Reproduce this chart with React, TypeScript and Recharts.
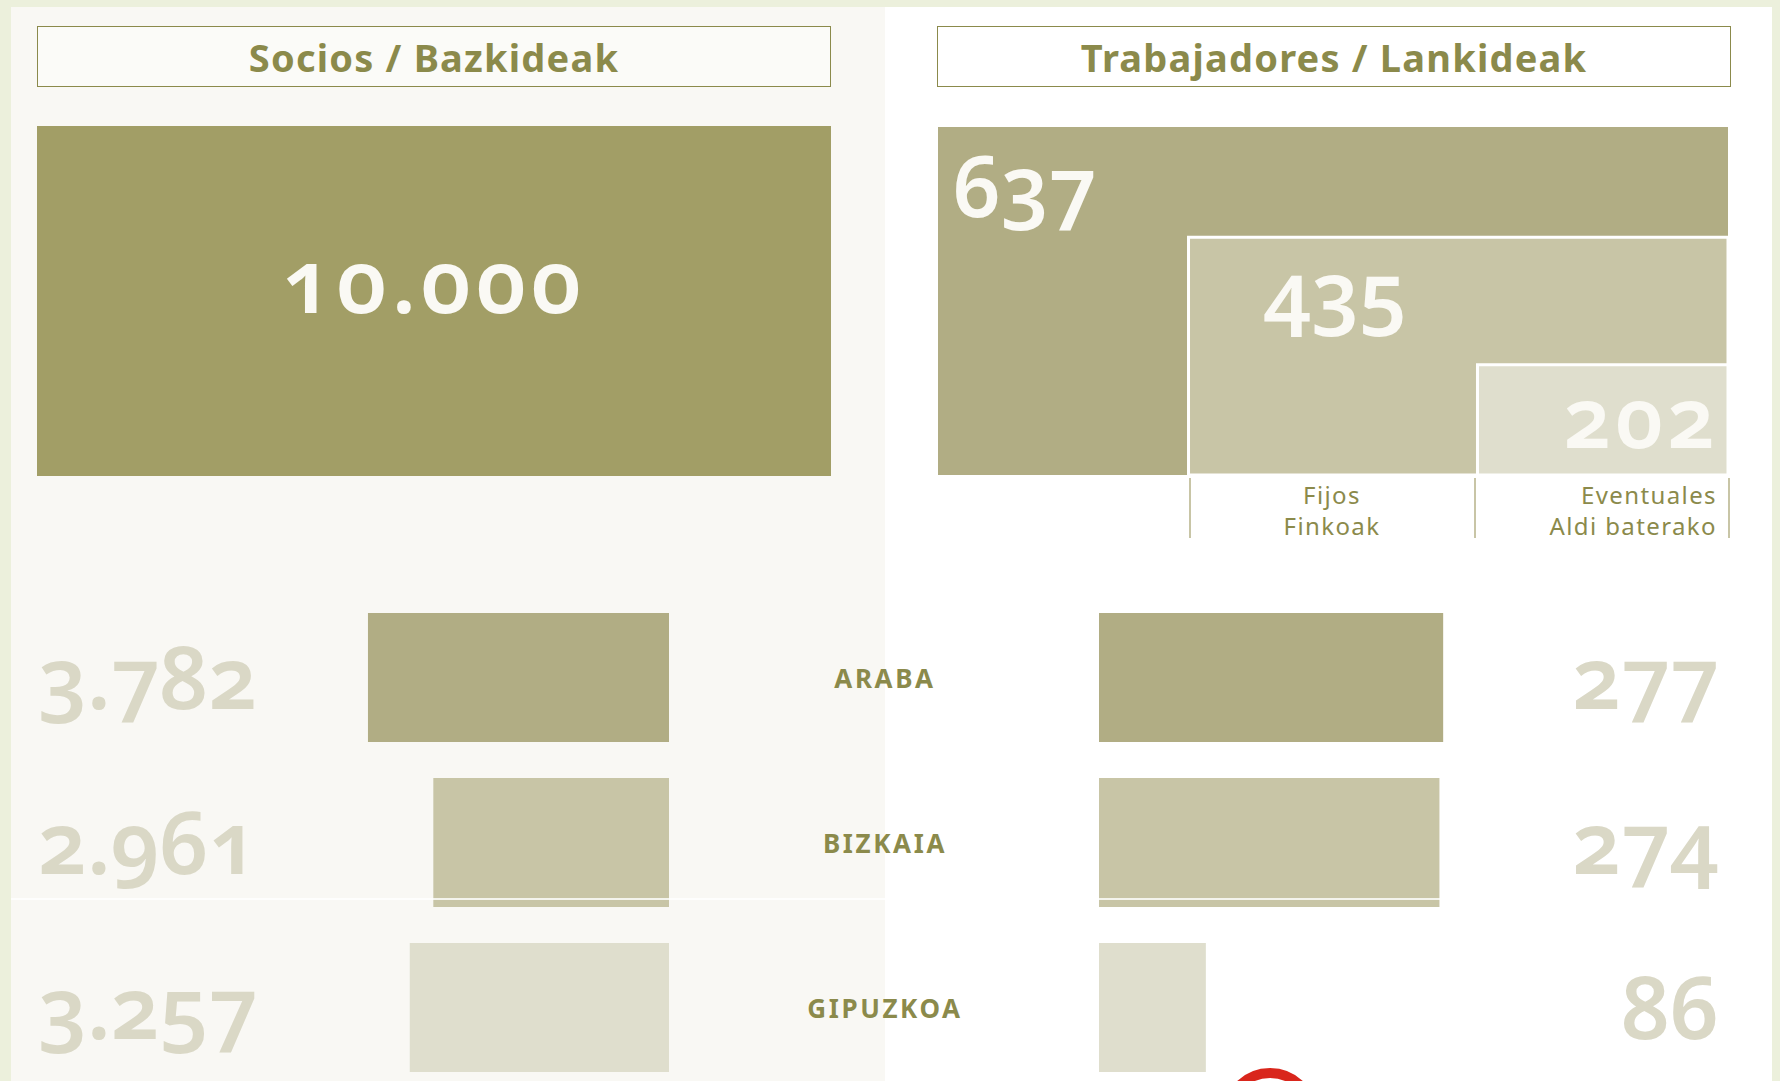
import React from "react";
import {
  Bar,
  BarChart,
  Cell,
  LabelList,
  ReferenceArea,
  Scatter,
  ScatterChart,
  XAxis,
  YAxis,
} from "recharts";

document.body.style.margin = "0";

// Datos
const sociosTotal = 10000;
const trabajadoresTotal = 637;
const fijos = 435;
const eventuales = 202;
const territorios = ["ARABA", "BIZKAIA", "GIPUZKOA"];
const sociosPorTerritorio = [3782, 2961, 3257];
const trabajadoresPorTerritorio = [277, 274, 86];

const olive = "#8b8a4b";
const tonos = ["#b1ad84", "#c8c5a6", "#dfdecd"];
const numColor = "#dad8c6";

const numFont: React.CSSProperties = {
  fontFamily: "'Noto Sans', sans-serif",
  fontWeight: 600,
  fontVariantNumeric: "oldstyle-nums",
  fontFeatureSettings: '"onum" 1',
};

const fmt = (v: number) => String(v).replace(/\B(?=(\d{3})+(?!\d))/g, ".");

const regiones = territorios.map((name, i) => ({
  name,
  socios: sociosPorTerritorio[i],
  trabajadores: trabajadoresPorTerritorio[i],
}));

const plantilla = [
  { x: trabajadoresTotal, y: trabajadoresTotal },
  { x: fijos, y: fijos },
  { x: eventuales, y: eventuales },
];

const noMargin = { top: 0, right: 0, bottom: 0, left: 0 };

function areaLabel(text: string, place: "topLeft" | "mid" | "bottomRight") {
  return (props: any) => {
    const { x, y, width, height } = props.viewBox;
    let tx = x + 15;
    let ty = y + 90;
    let anchor: "start" | "end" = "start";
    let spacing = 0;
    if (place === "mid") {
      tx = x + 75;
      ty = y + 86;
    }
    if (place === "bottomRight") {
      tx = x + width - 9;
      ty = y + height - 27;
      anchor = "end";
      spacing = 4;
    }
    return (
      <text
        x={tx}
        y={ty}
        textAnchor={anchor}
        fill="#faf9f4"
        fontSize={84}
        letterSpacing={spacing}
        style={numFont}
      >
        {text}
      </text>
    );
  };
}

const Titulo = ({ left, text, bg }: { left: number; text: string; bg: string }) => (
  <div
    style={{
      position: "absolute",
      left,
      top: 26,
      width: 794,
      height: 61,
      border: `1.5px solid ${olive}`,
      background: bg,
      display: "flex",
      alignItems: "center",
      justifyContent: "center",
      fontFamily: "'Noto Sans', sans-serif",
      fontWeight: 700,
      fontSize: 38,
      letterSpacing: 1.2,
      color: olive,
      boxSizing: "border-box",
    }}
  >
    {text}
  </div>
);

export default function App() {
  const leftW = 632;
  const rightW = 1050;
  const axisW = 430;
  return (
    <div
      style={{
        position: "relative",
        width: 1780,
        height: 1081,
        overflow: "hidden",
        background: "#ecf0dc",
      }}
    >
      <div style={{ position: "absolute", left: 11, top: 7, width: 874, height: 1074, background: "#f9f8f4" }} />
      <div style={{ position: "absolute", left: 885, top: 7, width: 887, height: 1074, background: "#ffffff" }} />

      <Titulo left={37} text="Socios / Bazkideak" bg="#fbfbf8" />
      <Titulo left={937} text="Trabajadores / Lankideak" bg="#ffffff" />

      {/* Socios total */}
      <div style={{ position: "absolute", left: 37, top: 126 }}>
        <BarChart
          width={794}
          height={350}
          data={[{ name: "Socios", value: sociosTotal }]}
          margin={noMargin}
          barCategoryGap={0}
        >
          <XAxis dataKey="name" hide />
          <YAxis hide domain={[0, sociosTotal]} />
          <Bar dataKey="value" fill="#a29e66" isAnimationActive={false}>
            <LabelList
              dataKey="value"
              content={(p: any) => (
                <text
                  x={p.x + p.width / 2}
                  y={p.y + 187}
                  textAnchor="middle"
                  fill="#faf9f4"
                  fontSize={88}
                  letterSpacing={5}
                  style={numFont}
                >
                  {fmt(p.value)}
                </text>
              )}
            />
          </Bar>
        </BarChart>
      </div>

      {/* Trabajadores: total, fijos, eventuales */}
      <div style={{ position: "absolute", left: 938, top: 127 }}>
        <ScatterChart width={790} height={348} margin={noMargin}>
          <XAxis type="number" dataKey="x" domain={[0, trabajadoresTotal]} reversed hide />
          <YAxis type="number" dataKey="y" domain={[0, trabajadoresTotal]} hide />
          <ReferenceArea
            x1={0}
            x2={trabajadoresTotal}
            y1={0}
            y2={trabajadoresTotal}
            fill={tonos[0]}
            fillOpacity={1}
            stroke="none"
            label={areaLabel(String(trabajadoresTotal), "topLeft")}
          />
          <ReferenceArea
            x1={0}
            x2={fijos}
            y1={0}
            y2={fijos}
            fill={tonos[1]}
            fillOpacity={1}
            stroke="#ffffff"
            strokeWidth={3}
            label={areaLabel(String(fijos), "mid")}
          />
          <ReferenceArea
            x1={0}
            x2={eventuales}
            y1={0}
            y2={eventuales}
            fill={tonos[2]}
            fillOpacity={1}
            stroke="#ffffff"
            strokeWidth={3}
            label={areaLabel(String(eventuales), "bottomRight")}
          />
          <Scatter data={plantilla} fill="none" shape={() => <g />} isAnimationActive={false} />
        </ScatterChart>
      </div>

      {/* Etiquetas fijos / eventuales */}
      <svg style={{ position: "absolute", left: 0, top: 0 }} width={1780} height={600}>
        <g stroke="#c8c5a6" strokeWidth={2}>
          <line x1={1190} y1={478} x2={1190} y2={538} />
          <line x1={1475} y1={478} x2={1475} y2={538} />
          <line x1={1729} y1={478} x2={1729} y2={538} />
        </g>
        <g fill={olive} fontFamily="'Noto Sans', sans-serif" fontSize={24} letterSpacing={1.4}>
          <text x={1332} y={504} textAnchor="middle">Fijos</text>
          <text x={1332} y={535} textAnchor="middle">Finkoak</text>
          <text x={1717} y={504} textAnchor="end">Eventuales</text>
          <text x={1717} y={535} textAnchor="end">Aldi baterako</text>
        </g>
      </svg>

      {/* Socios por territorio */}
      <div style={{ position: "absolute", left: 37, top: 595 }}>
        <BarChart width={leftW} height={495} data={regiones} layout="vertical" margin={noMargin} barCategoryGap={36}>
          <XAxis type="number" domain={[0, 7940]} reversed hide />
          <YAxis type="category" dataKey="name" hide />
          <Bar dataKey="socios" barSize={129} isAnimationActive={false}>
            {regiones.map((r, i) => (
              <Cell key={r.name} fill={tonos[i]} />
            ))}
            <LabelList
              dataKey="socios"
              content={(p: any) => (
                <text x={1} y={p.y + p.height / 2 + 31} fill={numColor} fontSize={86} style={numFont}>
                  {fmt(p.value)}
                </text>
              )}
            />
          </Bar>
        </BarChart>
      </div>

      {/* Trabajadores por territorio */}
      <div style={{ position: "absolute", left: 669, top: 595 }}>
        <BarChart width={rightW} height={495} data={regiones} layout="vertical" margin={noMargin} barCategoryGap={36}>
          <XAxis type="number" domain={[0, 499]} hide />
          <YAxis
            type="category"
            dataKey="name"
            width={axisW}
            axisLine={false}
            tickLine={false}
            tickSize={0}
            tickMargin={0}
            tick={(p: any) => (
              <text
                x={p.x - axisW / 2 + 1}
                y={p.y + 10}
                textAnchor="middle"
                fill={olive}
                fontFamily="'Noto Sans', sans-serif"
                fontWeight={700}
                fontSize={26}
                letterSpacing={2.6}
              >
                {p.payload.value}
              </text>
            )}
          />
          <Bar dataKey="trabajadores" barSize={129} isAnimationActive={false}>
            {regiones.map((r, i) => (
              <Cell key={r.name} fill={tonos[i]} />
            ))}
            <LabelList
              dataKey="trabajadores"
              content={(p: any) => (
                <text
                  x={rightW}
                  y={p.y + p.height / 2 + 31}
                  textAnchor="end"
                  fill={numColor}
                  fontSize={86}
                  style={numFont}
                >
                  {fmt(p.value)}
                </text>
              )}
            />
          </Bar>
        </BarChart>
      </div>

      {/* línea clara de la composición y logotipo recortado */}
      <div style={{ position: "absolute", left: 11, top: 898, width: 1432, height: 2, background: "#ffffff", opacity: 0.8 }} />
      <div
        style={{
          position: "absolute",
          left: 1222,
          top: 1068,
          width: 96,
          height: 96,
          borderRadius: "50%",
          border: "10px solid #d9261c",
          boxSizing: "border-box",
        }}
      />
    </div>
  );
}
